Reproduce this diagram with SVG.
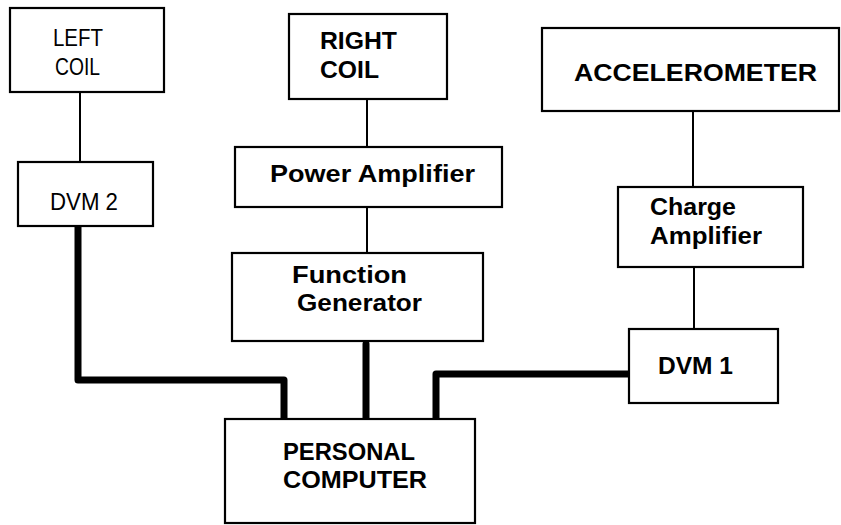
<svg xmlns="http://www.w3.org/2000/svg" width="841" height="525" viewBox="0 0 841 525">
<style>
.box{fill:#fff;stroke:#000;stroke-width:2.2}
.t{font-family:"Liberation Sans",Arial,sans-serif;font-size:24.5px;fill:#000}
.b{font-weight:bold;font-size:24px}
.thin{fill:none;stroke:#000;stroke-width:2}
.thick{fill:none;stroke:#000;stroke-width:7;stroke-linejoin:round;stroke-linecap:round}
</style>
<rect width="841" height="525" fill="#fff"/>
<g id="connectors">
<line class="thin" x1="80" y1="92" x2="80" y2="162"/>
<line class="thin" x1="367" y1="99" x2="367" y2="147"/>
<line class="thin" x1="367" y1="207" x2="367" y2="253"/>
<line class="thin" x1="693" y1="111" x2="693" y2="187"/>
<line class="thin" x1="694" y1="267" x2="694" y2="329"/>
<path class="thick" d="M78 224 V380 H284 V419"/>
<path class="thick" d="M366 344 V419"/>
<path class="thick" d="M436 419 V374 H629"/>
</g>
<g id="left-coil">
<rect class="box" x="10" y="8" width="154" height="84"/>
<text class="t" x="53" y="46" textLength="50" lengthAdjust="spacingAndGlyphs">LEFT</text>
<text class="t" x="55" y="75" textLength="45" lengthAdjust="spacingAndGlyphs">COIL</text>
</g>
<g id="dvm2">
<rect class="box" x="18" y="162" width="135" height="64"/>
<text class="t" x="50" y="210" textLength="68" lengthAdjust="spacingAndGlyphs">DVM 2</text>
</g>
<g id="right-coil">
<rect class="box" x="289" y="14" width="158" height="85"/>
<text class="t b" x="320" y="49" textLength="77" lengthAdjust="spacingAndGlyphs">RIGHT</text>
<text class="t b" x="320" y="78" textLength="59" lengthAdjust="spacingAndGlyphs">COIL</text>
</g>
<g id="power-amplifier">
<rect class="box" x="235" y="147" width="267" height="60"/>
<text class="t b" x="270" y="182" textLength="205" lengthAdjust="spacingAndGlyphs">Power Amplifier</text>
</g>
<g id="function-generator">
<rect class="box" x="232" y="253" width="251" height="88"/>
<text class="t b" x="292" y="283" textLength="115" lengthAdjust="spacingAndGlyphs">Function</text>
<text class="t b" x="297" y="311" textLength="125" lengthAdjust="spacingAndGlyphs">Generator</text>
</g>
<g id="personal-computer">
<rect class="box" x="225" y="419" width="250" height="104"/>
<text class="t b" x="283" y="460" textLength="132" lengthAdjust="spacingAndGlyphs">PERSONAL</text>
<text class="t b" x="283" y="488" textLength="144" lengthAdjust="spacingAndGlyphs">COMPUTER</text>
</g>
<g id="accelerometer">
<rect class="box" x="542" y="28" width="297" height="83"/>
<text class="t b" x="574" y="81" textLength="243" lengthAdjust="spacingAndGlyphs">ACCELEROMETER</text>
</g>
<g id="charge-amplifier">
<rect class="box" x="618" y="187" width="185" height="80"/>
<text class="t b" x="650" y="215" textLength="86" lengthAdjust="spacingAndGlyphs">Charge</text>
<text class="t b" x="650" y="244" textLength="112" lengthAdjust="spacingAndGlyphs">Amplifier</text>
</g>
<g id="dvm1">
<rect class="box" x="629" y="329" width="149" height="74"/>
<text class="t b" x="658" y="374" textLength="75" lengthAdjust="spacingAndGlyphs">DVM 1</text>
</g>
</svg>
